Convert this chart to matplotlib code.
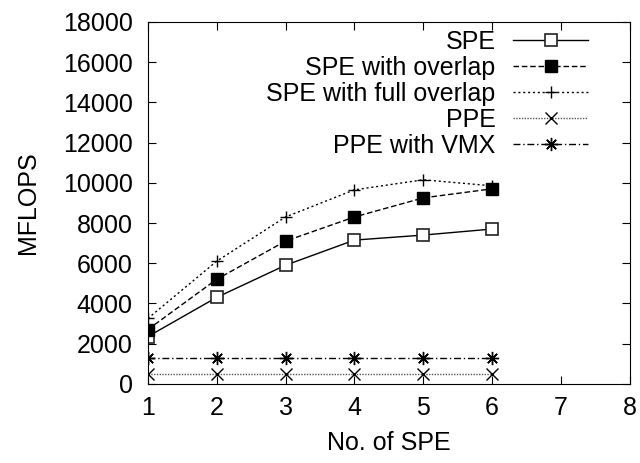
import matplotlib
matplotlib.use("Agg")
import matplotlib.pyplot as plt

plt.rcParams['font.family'] = ['Liberation Sans', 'DejaVu Sans']

n_spe = [1, 2, 3, 4, 5, 6]
spe = [2350, 4300, 5900, 7150, 7400, 7700]
spe_overlap = [2700, 5200, 7100, 8300, 9250, 9700]
spe_full = [3250, 6100, 8300, 9650, 10150, 9850]
ppe = [500, 500, 500, 500, 500, 500]
ppe_vmx = [1300, 1300, 1300, 1300, 1300, 1300]

fig = plt.figure(figsize=(6.4, 4.63), dpi=100)
ax = fig.add_axes([0.231, 0.171, 0.753, 0.7815])

ax.plot(n_spe, spe, color='black', lw=1, ls='-', marker='s', ms=8.5,
        mfc='white', mec='#222222', mew=1.2, label='SPE')
ax.plot(n_spe, spe_overlap, color='black', lw=1, ls=(0, (4, 2)), marker='s', ms=8.5,
        mfc='black', mec='black', label='SPE with overlap')
ax.plot(n_spe, spe_full, color='black', lw=1, ls=(0, (1.5, 2)), marker='+', ms=9,
        mew=1, label='SPE with full overlap')
ax.plot(n_spe, ppe, color='#555555', lw=1, ls=(0, (1, 1)), marker='x', ms=8,
        mec='black', mew=1, label='PPE')
ax.plot(n_spe, ppe_vmx, color='black', lw=1, ls=(0, (5, 2, 1, 2)), marker=(8, 2, 0), ms=9.5,
        mec='black', mew=1, label='PPE with VMX')

ax.set_xlim(1, 8)
ax.set_ylim(0, 18000)
ax.set_xticks(range(1, 9))
ax.set_yticks(range(0, 18001, 2000))
ax.tick_params(direction='in', top=True, right=True, length=6, labelsize=18)
ax.tick_params(axis='y', pad=11)
ax.tick_params(axis='x', pad=9)
ax.set_xlabel('No. of SPE', fontsize=18, labelpad=8)
ax.set_ylabel('MFLOPS', fontsize=18, labelpad=16)

ax.legend(loc='upper right', bbox_to_anchor=(0.95, 1.027), frameon=False, markerfirst=False,
          fontsize=18, handlelength=3.0, handletextpad=0.7, labelspacing=0.08,
          borderaxespad=0.3)

fig.savefig('out.png', dpi=100)
